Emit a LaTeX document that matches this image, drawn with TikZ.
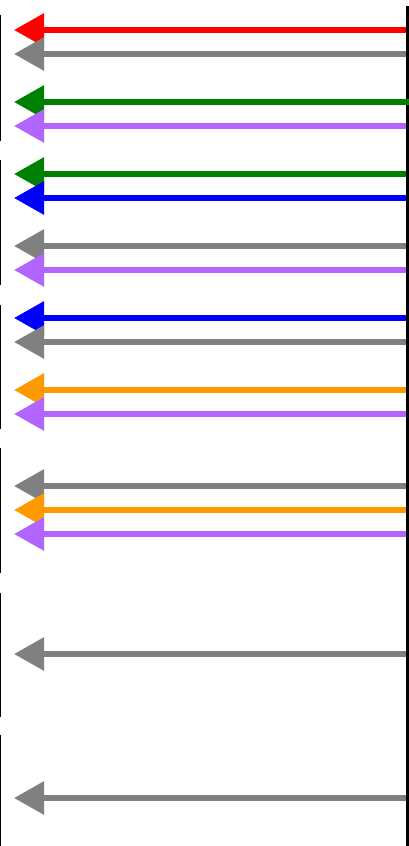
\documentclass[tikz,border=0pt]{standalone}
\usetikzlibrary{arrows.meta}
\definecolor{msgred}{RGB}{255,0,0}
\definecolor{msggray}{RGB}{128,128,128}
\definecolor{msggreen}{RGB}{0,128,0}
\definecolor{msgpurple}{RGB}{178,102,255}
\definecolor{msgblue}{RGB}{0,0,255}
\definecolor{msgorange}{RGB}{255,153,0}
\tikzset{
  msg/.style={line width=6pt, -{Triangle[length=30pt,width=32pt]}},
  lifeline/.style={line width=3pt, black},
  bracket/.style={line width=1.2pt, black},
}
\begin{document}
\begin{tikzpicture}[x=1pt,y=-1pt]
  \useasboundingbox (0,0) rectangle (409,846);
  % right lifeline
  \coordinate (lifeTop) at (407.5,6);
  \coordinate (lifeBot) at (407.5,846);
  \draw[lifeline] (lifeTop) -- (lifeBot);
  % left group brackets
  \foreach \i/\a/\b in {1/15/141, 2/160/285, 3/305/429, 4/448/573, 5/593/717, 6/735/846}{
    \coordinate (gTop\i) at (0.6,\a);
    \coordinate (gBot\i) at (0.6,\b);
    \draw[bracket] (gTop\i) -- (gBot\i);
  }
  % messages, drawn top to bottom
  \foreach \i/\y/\c/\x in {
     1/30/msgred/406, 2/54/msggray/406,
     3/102/msggreen/409, 4/126/msgpurple/406,
     5/174/msggreen/406, 6/198/msgblue/406,
     7/246/msggray/406, 8/270/msgpurple/406,
     9/318/msgblue/406, 10/342/msggray/406,
     11/390/msgorange/406, 12/414/msgpurple/406,
     13/486/msggray/406, 14/510/msgorange/406, 15/534/msgpurple/406,
     16/654/msggray/406,
     17/798/msggray/406}{
    \coordinate (src\i) at (\x,\y);
    \coordinate (dst\i) at (14,\y);
    \draw[msg, \c] (src\i) -- (dst\i);
  }
\end{tikzpicture}
\end{document}
